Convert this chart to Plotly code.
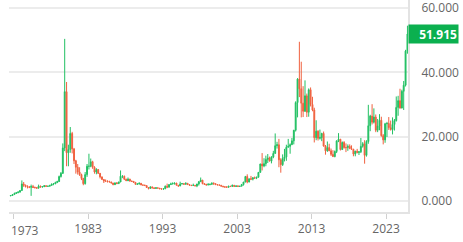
import plotly.graph_objects as go

# Quarterly candles (quarter-mid dates)
quarters = []
for yr in range(1972, 2026):
    for md in ["02-15", "05-15", "08-15", "11-15"]:
        if yr == 1972 and md in ("02-15", "05-15"):
            continue
        quarters.append(f"{yr}-{md}")

first_open = 1.55

closes = [
    1.70, 2.00,
    2.35, 2.55, 2.75, 3.25,
    5.30, 4.90, 4.50, 4.40,
    4.25, 4.50, 4.20, 4.15,
    4.00, 4.60, 4.35, 4.45,
    4.75, 4.55, 4.60, 4.85,
    5.25, 5.30, 5.70, 6.05,
    7.60, 8.60, 16.5, 34.0,
    15.0, 16.0, 21.0, 16.2,
    12.5, 10.5, 9.0, 8.2,
    7.0, 5.4, 8.2, 10.8,
    10.8, 12.2, 10.5, 9.0,
    9.8, 8.6, 7.5, 6.7,
    6.2, 6.2, 6.0, 5.9,
    5.6, 5.1, 5.6, 5.4,
    5.9, 7.7, 7.7, 6.8,
    6.3, 6.8, 6.2, 6.1,
    5.8, 5.2, 5.3, 5.5,
    5.0, 4.9, 4.8, 4.2,
    3.9, 4.4, 4.1, 3.9,
    4.1, 4.0, 3.8, 3.7,
    3.8, 4.6, 4.3, 5.1,
    5.3, 5.4, 5.6, 4.9,
    4.7, 5.3, 5.4, 5.2,
    5.5, 5.1, 4.9, 4.8,
    4.9, 4.7, 5.3, 6.0,
    6.5, 5.4, 5.2, 5.0,
    5.1, 5.2, 5.5, 5.4,
    5.1, 5.0, 4.9, 4.6,
    4.4, 4.3, 4.3, 4.6,
    4.5, 4.9, 4.5, 4.7,
    4.5, 4.6, 5.1, 5.9,
    7.6, 5.9, 6.9, 6.8,
    7.2, 7.1, 7.4, 8.9,
    11.5, 10.9, 11.6, 12.9,
    13.4, 12.4, 13.7, 14.8,
    17.2, 17.5, 12.8, 11.3,
    13.2, 13.7, 16.7, 17.0,
    17.5, 18.7, 22.0, 30.6,
    37.9, 34.9, 30.4, 27.9,
    32.7, 27.6, 34.6, 30.0,
    28.3, 19.7, 21.7, 19.5,
    19.7, 21.0, 17.1, 15.6,
    16.6, 15.6, 14.5, 13.8,
    15.4, 18.7, 19.2, 16.0,
    18.2, 16.6, 16.6, 17.0,
    16.3, 16.1, 14.6, 15.5,
    15.1, 15.3, 17.0, 17.8,
    14.2, 18.5, 23.4, 26.4,
    24.5, 26.1, 22.0, 23.3,
    25.1, 20.3, 19.0, 24.0,
    24.1, 22.8, 22.2, 23.8,
    25.0, 29.1, 31.2, 28.9,
    34.1, 36.0, 46.6, 51.915,
]

highs = [
    1.78, 2.05,
    2.60, 2.75, 3.05, 3.30,
    6.40, 5.90, 5.10, 4.90,
    4.60, 5.10, 5.00, 4.50,
    4.30, 5.10, 4.80, 4.55,
    4.90, 4.85, 4.75, 5.00,
    5.45, 5.60, 6.00, 6.30,
    7.90, 9.00, 17.9, 50.4,
    37.0, 17.5, 23.0, 21.5,
    16.5, 12.8, 11.5, 10.5,
    8.5, 7.2, 9.0, 11.5,
    14.7, 13.2, 12.5, 10.8,
    10.2, 9.9, 8.5, 7.6,
    6.8, 6.7, 6.4, 6.3,
    6.0, 5.6, 5.8, 5.9,
    6.0, 9.5, 8.0, 7.9,
    6.9, 7.3, 6.9, 6.3,
    6.2, 5.9, 5.5, 5.8,
    5.6, 5.1, 5.1, 4.8,
    4.2, 4.5, 4.4, 4.2,
    4.3, 4.1, 4.0, 3.9,
    3.9, 4.8, 5.4, 5.2,
    5.7, 5.8, 5.7, 5.6,
    4.9, 6.0, 5.6, 5.5,
    5.8, 5.5, 5.2, 5.0,
    5.4, 4.9, 5.3, 6.2,
    7.3, 6.5, 5.6, 5.3,
    5.6, 5.4, 5.8, 5.8,
    5.5, 5.1, 5.1, 4.9,
    4.7, 4.6, 4.6, 4.7,
    4.7, 5.1, 4.9, 4.8,
    4.9, 4.7, 5.3, 5.9,
    7.8, 8.3, 7.0, 7.8,
    7.4, 7.6, 7.5, 9.0,
    11.6, 14.9, 13.3, 14.1,
    14.6, 13.8, 13.9, 15.6,
    21.0, 18.4, 19.3, 13.3,
    14.5, 16.2, 17.5, 19.3,
    17.9, 19.6, 22.1, 31.0,
    38.2, 49.5, 43.3, 35.7,
    37.5, 33.4, 35.0, 35.3,
    32.4, 29.0, 25.1, 22.0,
    22.2, 21.2, 21.6, 17.4,
    18.5, 17.8, 16.3, 15.8,
    15.7, 18.8, 21.1, 19.3,
    18.5, 18.6, 17.9, 17.6,
    17.6, 17.3, 16.2, 15.6,
    16.2, 15.5, 19.6, 18.3,
    18.9, 18.9, 29.9, 26.8,
    30.1, 28.8, 26.9, 25.5,
    27.0, 26.2, 20.8, 24.3,
    24.6, 26.1, 25.0, 26.0,
    25.5, 32.5, 32.7, 34.9,
    34.6, 37.3, 47.0, 54.5,
]

lows = [
    1.60, 1.68,
    1.98, 2.20, 2.45, 2.70,
    3.20, 4.40, 4.20, 3.90,
    4.00, 1.60, 4.10, 3.90,
    3.85, 3.90, 4.20, 4.20,
    4.40, 4.40, 4.40, 4.50,
    4.85, 4.90, 5.30, 5.60,
    5.95, 7.30, 8.40, 15.5,
    10.8, 10.8, 15.0, 14.8,
    11.5, 8.5, 8.2, 7.8,
    6.5, 4.9, 5.1, 7.5,
    9.8, 10.5, 10.0, 8.5,
    8.3, 8.4, 7.0, 6.6,
    5.6, 6.0, 5.8, 5.9,
    5.5, 4.9, 4.95, 5.3,
    5.4, 5.9, 7.1, 6.5,
    6.2, 6.2, 6.0, 5.9,
    5.7, 5.0, 5.0, 5.1,
    4.9, 4.9, 4.7, 4.1,
    3.6, 3.9, 3.9, 3.8,
    3.9, 3.9, 3.7, 3.6,
    3.5, 3.7, 4.0, 4.2,
    5.0, 5.2, 5.1, 4.9,
    4.4, 4.6, 5.2, 5.1,
    5.1, 5.0, 4.9, 4.7,
    4.7, 4.6, 4.3, 4.8,
    5.9, 5.2, 5.0, 4.8,
    4.9, 4.9, 5.0, 5.0,
    5.0, 4.9, 4.9, 4.6,
    4.4, 4.3, 4.1, 4.1,
    4.4, 4.5, 4.5, 4.4,
    4.4, 4.4, 4.6, 4.8,
    5.8, 5.5, 5.8, 6.5,
    6.4, 6.9, 6.8, 7.3,
    8.8, 9.5, 10.5, 10.8,
    11.8, 12.3, 11.7, 13.3,
    14.7, 16.3, 10.5, 8.8,
    10.9, 12.3, 12.5, 16.8,
    14.7, 17.5, 17.6, 21.6,
    26.0, 32.3, 26.0, 26.1,
    27.7, 26.1, 26.2, 29.4,
    27.9, 18.2, 18.9, 18.8,
    19.1, 18.6, 16.9, 14.4,
    15.3, 15.5, 14.0, 13.7,
    13.6, 14.9, 18.3, 15.7,
    15.9, 16.3, 15.2, 15.6,
    16.1, 16.0, 13.9, 13.9,
    14.8, 14.3, 14.9, 16.6,
    11.6, 13.8, 17.8, 21.7,
    23.8, 24.1, 21.4, 21.4,
    22.0, 20.0, 17.6, 18.1,
    19.9, 22.1, 21.9, 20.7,
    21.9, 24.7, 26.5, 28.7,
    28.8, 28.3, 35.6, 45.8,
]

opens = [first_open] + closes[:-1]

tick_years = ["1973", "1983", "1993", "2003", "2013", "2023"]
y_ticks = [0, 20, 40, 60]
y_labels = ["0.000", "20.000", "40.000", "60.000"]
last_label = "51.915"
last_value = closes[-1]

GREEN = "#22c063"
RED = "#f0613f"
TXT = "#666666"

fig = go.Figure(
    go.Candlestick(
        x=quarters, open=opens, high=highs, low=lows, close=closes,
        increasing=dict(line=dict(color=GREEN, width=1), fillcolor=GREEN),
        decreasing=dict(line=dict(color=RED, width=1), fillcolor=RED),
        whiskerwidth=0,
        showlegend=False,
        hoverinfo="skip",
    )
)

tick_dates = [f"{y}-01-01" for y in tick_years]

fig.update_layout(
    width=463, height=242,
    margin=dict(l=9, r=55, t=0, b=30, autoexpand=False),
    paper_bgcolor="white", plot_bgcolor="white",
    font=dict(family="Open Sans", size=12, color=TXT),
    xaxis=dict(
        type="date",
        range=["1972-05-25", "2025-12-12"],
        rangeslider=dict(visible=False),
        tickvals=tick_dates,
        ticktext=[""] + tick_years[1:],
        ticks="outside", ticklen=5, tickwidth=1, tickcolor="#d0d0d0",
        showline=True, linecolor="#e3e3e3", linewidth=2,
        showgrid=False, zeroline=False,
        tickfont=dict(family="Open Sans", size=12, color=TXT),
        ticklabeloverflow="allow",
        automargin=False,
        fixedrange=True,
    ),
    yaxis=dict(
        side="right",
        range=[-3.42, 62.49],
        tickvals=y_ticks, ticktext=y_labels,
        ticks="", ticklabelstandoff=9,
        showgrid=True, gridcolor="#ececec", gridwidth=2,
        showline=True, linecolor="#e3e3e3", linewidth=2,
        zeroline=False,
        tickfont=dict(family="Open Sans", size=12, color=TXT),
        ticklabeloverflow="allow",
        automargin=False,
        fixedrange=True,
    ),
    annotations=[
        dict(
            x=1, xref="paper", xanchor="left",
            y=last_value, yref="y", yanchor="middle",
            text=f"<b>{last_label}</b>",
            showarrow=False,
            font=dict(family="Open Sans", size=12, color="white"),
            bgcolor="#0bb04f",
            width=47, height=16, align="right",
            borderpad=1,
        ),
        dict(
            x=tick_dates[0], xref="x", xanchor="left", xshift=-5,
            y=0, yref="paper", yanchor="top", yshift=-8,
            text=tick_years[0],
            showarrow=False,
            font=dict(family="Open Sans", size=12, color=TXT),
        ),
    ],
)

fig.write_html("out.html")
